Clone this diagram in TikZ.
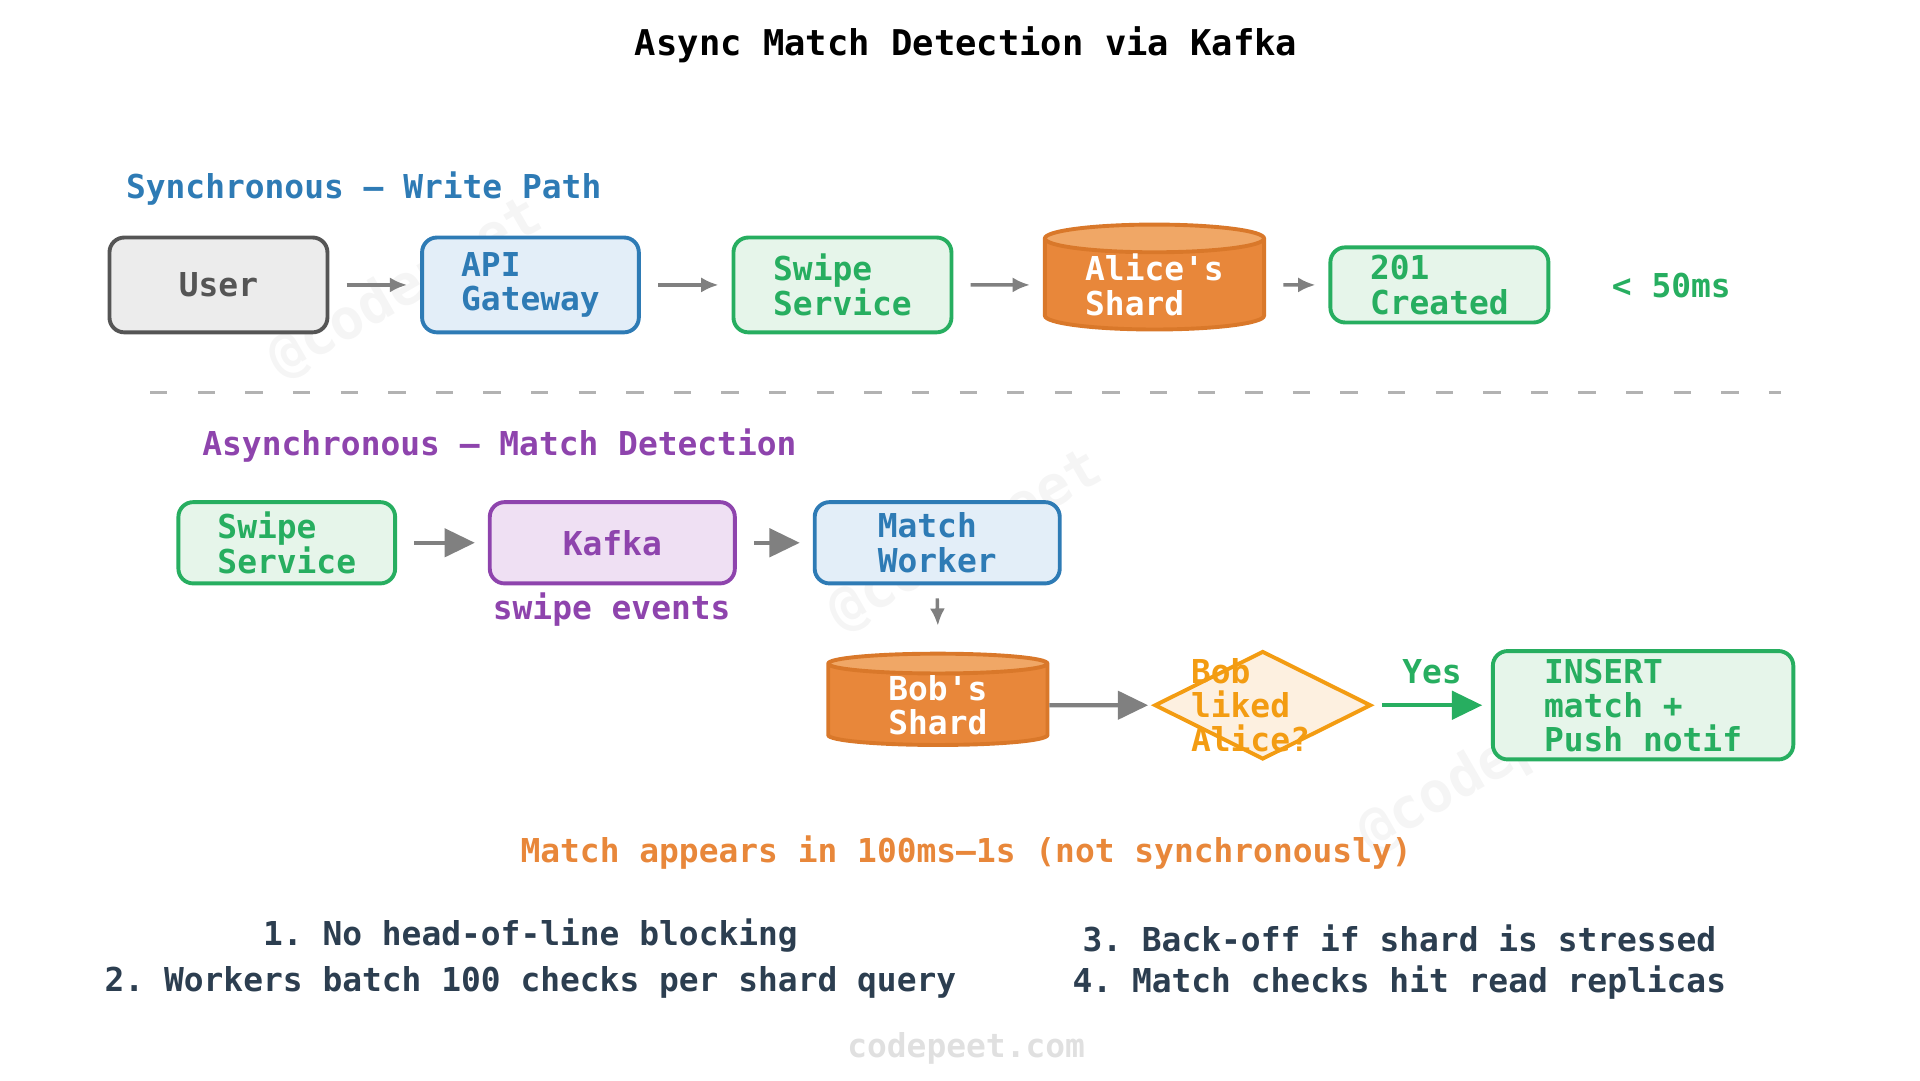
\documentclass[tikz,border=0pt]{standalone}
\usepackage{fontspec}
\setmonofont{DejaVu Sans Mono}
\usetikzlibrary{shapes.geometric,arrows.meta,positioning}
\definecolor{gborder}{HTML}{555555}
\definecolor{gfill}{HTML}{ECECEC}
\definecolor{bborder}{HTML}{2E7BB5}
\definecolor{bfill}{HTML}{E3EEF8}
\definecolor{grborder}{HTML}{27AE60}
\definecolor{grfill}{HTML}{E6F5EA}
\definecolor{pborder}{HTML}{8E44AD}
\definecolor{pfill}{HTML}{EFE0F3}
\definecolor{obody}{HTML}{E8873A}
\definecolor{otop}{HTML}{F0A766}
\definecolor{oborder}{HTML}{D9782A}
\definecolor{dborder}{HTML}{F39C12}
\definecolor{dfill}{HTML}{FDF0E0}
\definecolor{navy}{HTML}{2C3E50}
\tikzset{
  every node/.style={font=\ttfamily\bfseries\fontsize{7.6}{7.9}\selectfont},
  box/.style={draw, rounded corners=1.2mm, line width=0.9pt, align=left, inner sep=0pt},
  userbox/.style={box, draw=gborder, fill=gfill, text=gborder},
  bluebox/.style={box, draw=bborder, fill=bfill, text=bborder},
  greenbox/.style={box, draw=grborder, fill=grfill, text=grborder},
  purplebox/.style={box, draw=pborder, fill=pfill, text=pborder},
  shard/.style={cylinder, shape border rotate=90, aspect=0.2, draw=oborder,
    line width=0.9pt, cylinder uses custom fill, cylinder body fill=obody,
    cylinder end fill=otop, text=white, align=left, inner sep=0pt},
  thin arrow/.style={draw=gray, line width=0.8pt, -{Latex[length=4pt,width=3.5pt]}},
  big arrow/.style={draw=gray, line width=1pt, -{Triangle[length=7pt,width=6.5pt]}},
  watermark/.style={text=black!4, rotate=30, font=\ttfamily\bfseries\fontsize{13}{13}\selectfont}
}
\begin{document}
\begin{tikzpicture}[x=0.01cm, y=-0.01cm]
  \useasboundingbox (0,0) rectangle (1560,878);
  % watermarks
  \node[watermark] (wm1) at (330,235) {@codepeet};
  \node[watermark] (wm2) at (785,440) {@codepeet};
  \node[watermark] (wm3) at (1215,620) {@codepeet};

  \node (title) at (785,36) {\fontsize{8.2}{9}\selectfont Async Match Detection via Kafka};

  % synchronous path
  \node[anchor=west, text=bborder] (synclbl) at (90,153) {Synchronous — Write Path};
  \node[userbox, minimum width=1.77cm, minimum height=0.77cm] (user) at (177.5,231.5) {User};
  \node[bluebox, minimum width=1.76cm, minimum height=0.77cm] (api) at (431,231.5) {API\\Gateway};
  \node[greenbox, minimum width=1.77cm, minimum height=0.77cm] (swipe) at (684.5,231.5) {Swipe\\Service};
  \node[shard, minimum width=1.78cm, minimum height=0.62cm] (alice) at (938,231.5) {Alice's\\Shard};
  \node[greenbox, minimum width=1.77cm, minimum height=0.61cm] (created) at (1169.5,231.5) {201\\Created};
  \node[text=grborder] (lat) at (1358,232) {< 50ms};
  \draw[thin arrow] ([xshift=4pt]user.east) -- ([xshift=-3pt]api.west);
  \draw[thin arrow] ([xshift=4pt]api.east) -- ([xshift=-3pt]swipe.west);
  \draw[thin arrow] ([xshift=4pt]swipe.east) -- ([xshift=-3pt]alice.west);
  \draw[thin arrow] ([xshift=4pt]alice.east) -- ([xshift=-3pt]created.west);

  \draw[gray!60, line width=0.8pt, dash pattern=on 4pt off 7pt] (122,319) -- (1447,319);

  % asynchronous path
  \node[anchor=west, text=pborder] (asynclbl) at (152,362) {Asynchronous — Match Detection};
  \node[greenbox, minimum width=1.76cm, minimum height=0.66cm] (swipe2) at (233,441) {Swipe\\Service};
  \node[purplebox, minimum width=1.99cm, minimum height=0.66cm] (kafka) at (497.5,441) {Kafka};
  \node[text=pborder] (events) at (497,495) {swipe events};
  \node[bluebox, minimum width=1.99cm, minimum height=0.66cm] (worker) at (761.5,441) {Match\\Worker};
  \node[shard, minimum width=1.78cm, minimum height=0.62cm] (bob) at (762,573) {Bob's\\Shard};
  \node[diamond, draw=dborder, fill=dfill, line width=0.9pt, minimum width=1.76cm,
        minimum height=0.88cm, inner sep=0pt] (liked) at (1026,573) {};
  \node[text=dborder, align=left] (likedtxt) at (1016,573) {Bob\\liked\\Alice?};
  \node[greenbox, minimum width=2.44cm, minimum height=0.88cm] (insert) at (1335,573) {INSERT\\match +\\Push notif};
  \draw[big arrow] ([xshift=4pt]swipe2.east) -- ([xshift=-3pt]kafka.west);
  \draw[big arrow] ([xshift=4pt]kafka.east) -- ([xshift=-3pt]worker.west);
  \draw[thin arrow] ([yshift=-3pt]worker.south) -- ([yshift=6pt]bob.north);
  \draw[big arrow] (bob.east) -- ([xshift=-1pt]liked.west);
  \draw[big arrow, draw=grborder] ([xshift=2pt]liked.east) -- node[above=1pt, text=grborder] {Yes} ([xshift=-2pt]insert.west);

  % notes
  \node[text=obody] (appears) at (785,693) {Match appears in 100ms–1s (not synchronously)};
  \node[text=navy] (n1) at (431,760) {1. No head-of-line blocking};
  \node[text=navy] (n2) at (431,798) {2. Workers batch 100 checks per shard query};
  \node[text=navy] (n3) at (1137,762) {3. Back-off if shard is stressed};
  \node[text=navy] (n4) at (1137,798) {4. Match checks hit read replicas};
  \node[text=black!12] (site) at (785,852) {codepeet.com};
\end{tikzpicture}
\end{document}
